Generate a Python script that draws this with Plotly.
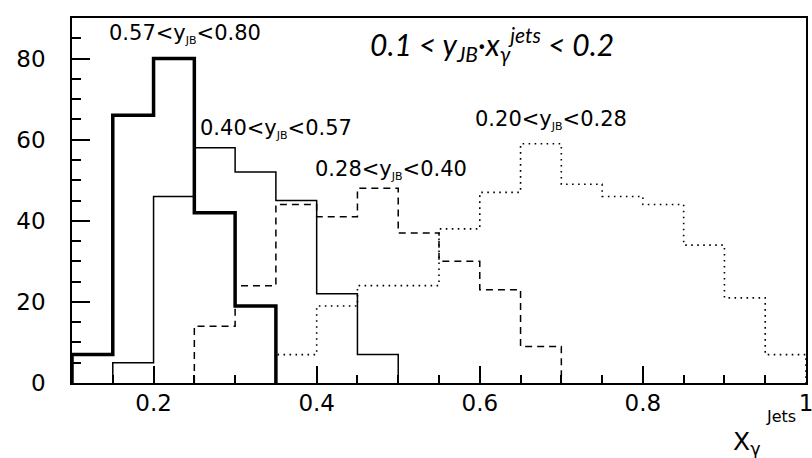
import plotly.graph_objects as go

# ---- data ----
bin_width = 0.05

thick_label = "0.57<y<sub><span style='font-size:11px'>JB</span></sub><0.80"
thick_start = 0.10
thick_counts = [7, 66, 80, 42, 19]

thin_label = "0.40<y<sub><span style='font-size:11px'>JB</span></sub><0.57"
thin_start = 0.15
thin_counts = [5, 46, 58, 52, 45, 22, 7]

dashed_label = "0.28<y<sub><span style='font-size:11px'>JB</span></sub><0.40"
dashed_start = 0.25
dashed_counts = [14, 24, 44, 41, 48, 37, 30, 23, 9]

dotted_label = "0.20<y<sub><span style='font-size:11px'>JB</span></sub><0.28"
dotted_start = 0.35
dotted_counts = [7, 19, 24, 24, 38, 47, 59, 49, 46, 44, 34, 21, 7]

x_tickvals = [0.2, 0.4, 0.6, 0.8, 1.0]
x_ticktext = ["0.2", "0.4", "0.6", "0.8", "1"]
y_tickvals = [0, 20, 40, 60, 80]
y_ticktext = ["0", "20", "40", "60", "80"]


def hist_xy(start, counts, w):
    n = len(counts)
    xs = [start] + [start + i * w for i in range(n)] + [start + n * w, start + n * w]
    ys = [0] + list(counts) + [counts[-1], 0]
    return xs, ys


FONT = "DejaVu Sans, sans-serif"
fig = go.Figure()

series = [
    (thick_start, thick_counts, dict(color="black", width=3.5)),
    (thin_start, thin_counts, dict(color="black", width=1.5)),
    (dashed_start, dashed_counts, dict(color="black", width=1.5, dash="7px,5px")),
    (dotted_start, dotted_counts, dict(color="black", width=1.6, dash="1.6px,4.4px")),
]
for start, counts, line in series:
    xs, ys = hist_xy(start, counts, bin_width)
    fig.add_trace(go.Scatter(x=xs, y=ys, mode="lines", line_shape="hv",
                             line=line, showlegend=False, hoverinfo="skip"))

axis_common = dict(
    showline=True, linecolor="black", linewidth=1.5, mirror=True,
    showgrid=False, zeroline=False, ticks="inside", tickcolor="black",
    tickwidth=1.5, automargin=False, ticklabeloverflow="allow",
    tickfont=dict(family=FONT, size=23, color="black"),
)
fig.update_xaxes(range=[0.1, 1.0], tickvals=x_tickvals, ticktext=x_ticktext,
                 ticklen=17, ticklabelstandoff=-1,
                 minor=dict(dtick=0.05, tick0=0.1, ticklen=8, ticks="inside",
                            tickcolor="black", tickwidth=1.5),
                 **axis_common)
fig.update_yaxes(range=[0, 90], tickvals=y_tickvals, ticktext=y_ticktext,
                 ticklen=18, ticklabelstandoff=20,
                 minor=dict(dtick=5, tick0=0, ticklen=9, ticks="inside",
                            tickcolor="black", tickwidth=1.5),
                 **axis_common)

lab_font = dict(family=FONT, size=21, color="black")
labels = [
    (thick_label, 0.143, 86),
    (thin_label, 0.2545, 62.7),
    (dashed_label, 0.3955, 52.4),
    (dotted_label, 0.592, 64.8),
]
for txt, x, y in labels:
    fig.add_annotation(text=txt, x=x, y=y, xref="x", yref="y", xanchor="left",
                       yanchor="middle", showarrow=False, font=lab_font)

fig.add_annotation(text="<i>0.1 < y<sub>JB</sub>·x<sub>γ</sub><sup>jets</sup> < 0.2</i>",
                   x=0.463, y=83.5, xref="x", yref="y", xanchor="left", yanchor="middle",
                   showarrow=False, font=dict(family="Lato, sans-serif", size=30, color="black"))

# axis title X_gamma^Jets (placed below-right of the frame)
fig.add_annotation(text="X<sub>γ</sub>", x=(747 - 72) / 734, y=(383 - 443) / 365,
                   xref="paper", yref="paper", xanchor="center", yanchor="middle",
                   showarrow=False, font=dict(family=FONT, size=25, color="black"))
fig.add_annotation(text="Jets", x=(781 - 72) / 734, y=(383 - 416) / 365,
                   xref="paper", yref="paper", xanchor="center", yanchor="middle",
                   showarrow=False, font=dict(family=FONT, size=16, color="black"))

fig.update_layout(width=812, height=458, margin=dict(l=72, r=6, t=18, b=75),
                  plot_bgcolor="white", paper_bgcolor="white")
fig.write_html("out.html", config={"displayModeBar": False},
               post_script="document.body.style.margin='0';")
